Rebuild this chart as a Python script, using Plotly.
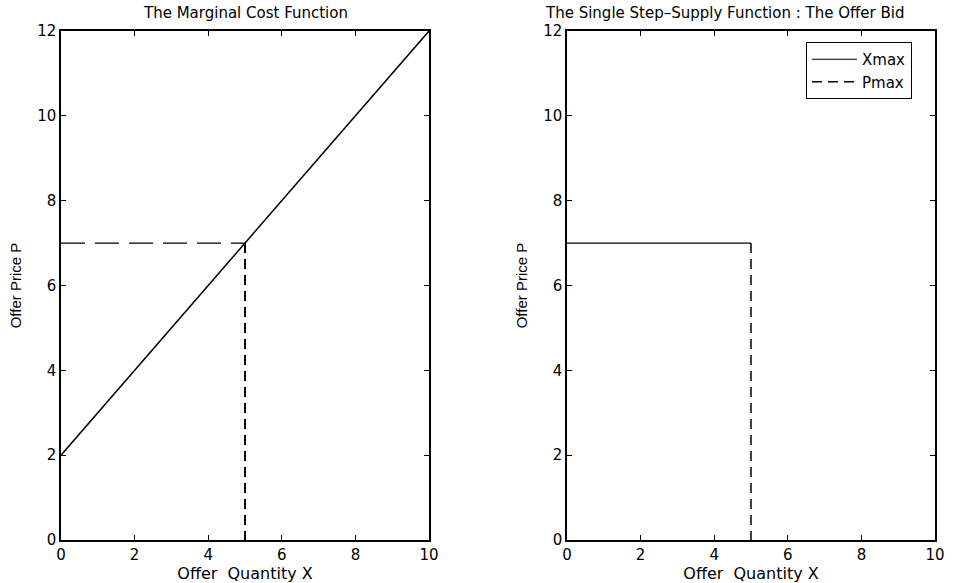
import plotly.graph_objects as go

# Data
mc_x = [0, 10]
mc_y = [2, 12]
x_max = 5
p_max = 7
step_x = [0, 5]
step_y = [7, 7]
drop_x = [5, 5]
drop_y = [7, 0]
x_ticks = [0, 2, 4, 6, 8, 10]
y_ticks = [0, 2, 4, 6, 8, 10, 12]

FONT = "DejaVu Sans, Liberation Sans, Arial, sans-serif"
NARROW = "Liberation Sans Narrow, Arial Narrow, sans-serif"

# page body margin is removed, so the figure fills the window exactly
ML, MR, MT, MB = 40, 20, 31, 43
W, H = 968, 583
PW, PH = W - ML - MR, H - MT - MB


def px_x(p):
    return (p - ML) / PW


def px_y(p):
    return (H - MB - p) / PH


fig = go.Figure()

# Left panel
fig.add_trace(go.Scatter(x=mc_x, y=mc_y, mode="lines", line=dict(color="black", width=1.5),
                         showlegend=False, xaxis="x", yaxis="y"))
fig.add_trace(go.Scatter(x=[0, x_max], y=[p_max, p_max], mode="lines",
                         line=dict(color="black", width=1.2, dash="24px,10px"),
                         showlegend=False, xaxis="x", yaxis="y"))
fig.add_trace(go.Scatter(x=[x_max, x_max], y=[p_max, 0], mode="lines",
                         line=dict(color="black", width=2, dash="10px,6px"),
                         showlegend=False, xaxis="x", yaxis="y"))

# Right panel
fig.add_trace(go.Scatter(x=step_x, y=step_y, mode="lines", name="Xmax",
                         line=dict(color="black", width=1.2), xaxis="x2", yaxis="y2"))
fig.add_trace(go.Scatter(x=drop_x, y=drop_y, mode="lines", name="Pmax",
                         line=dict(color="black", width=1.5, dash="10px,6px"), xaxis="x2", yaxis="y2"))

tickfont = dict(family=FONT, size=15, color="black")
axis_common = dict(range=[0, 10], tickvals=x_ticks, showline=True, linecolor="black", linewidth=1.5,
                   mirror="ticks", ticks="inside", ticklen=5, tickcolor="black", showgrid=False,
                   zeroline=False, tickfont=tickfont, automargin=False)
yaxis_common = dict(range=[0, 12], tickvals=y_ticks, showline=True, linecolor="black", linewidth=1.5,
                    mirror="ticks", ticks="inside", ticklen=5, tickcolor="black", showgrid=False,
                    zeroline=False, tickfont=tickfont, automargin=False)

xtitle = dict(text="Offer  Quantity X", font=dict(family=FONT, size=16, color="black"), standoff=0)
ytitle = dict(text="Offer Price P", font=dict(family=NARROW, size=15, color="black"), standoff=12)

fig.update_layout(
    width=W, height=H,
    margin=dict(l=ML, r=MR, t=MT, b=MB, autoexpand=False),
    paper_bgcolor="white", plot_bgcolor="white",
    xaxis=dict(domain=[px_x(61), px_x(429)], anchor="y", title=xtitle, **axis_common),
    yaxis=dict(domain=[0, 1], anchor="x", title=ytitle, **yaxis_common),
    xaxis2=dict(domain=[px_x(567), px_x(935)], anchor="y2", title=xtitle, **axis_common),
    yaxis2=dict(domain=[0, 1], anchor="x2", title=ytitle, **yaxis_common),
    legend=dict(x=px_x(912), y=px_y(42), xanchor="right", yanchor="top", bgcolor="white",
                bordercolor="black", borderwidth=1, font=dict(family=FONT, size=15, color="black"),
                tracegroupgap=0, itemwidth=45),
)

fig.add_annotation(text="The Marginal Cost Function", x=px_x(245), y=px_y(13), xref="paper", yref="paper",
                   xanchor="center", yanchor="middle", showarrow=False,
                   font=dict(family=FONT, size=15, color="black"))
fig.add_annotation(text="The Single Step\u2013Supply Function : The Offer Bid", x=px_x(543), y=px_y(13),
                   xref="paper", yref="paper", xanchor="left", yanchor="middle", showarrow=False,
                   font=dict(family=FONT, size=15, color="black"))

fig.write_html("out.html", config={"displayModeBar": False},
               post_script="document.body.style.margin='0px';document.body.style.overflow='hidden';")
